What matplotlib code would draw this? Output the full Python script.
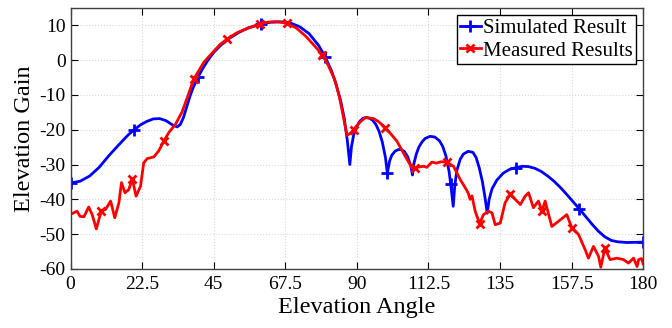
import matplotlib.pyplot as plt
import numpy as np

plt.rcParams['font.family'] = ['Liberation Serif', 'DejaVu Serif']
plt.rcParams['axes.unicode_minus'] = False

# Simulated result (angle, gain)
sim_angle = [0, 3, 6, 9, 12, 15, 18, 20, 22, 24, 26, 28, 30, 32, 33.5, 34.5, 35.5, 36.5,
             37.5, 38.5, 40, 41.5, 43, 45, 47.5, 50, 53, 56, 60, 63, 66, 69, 72, 75, 78,
             80, 82, 83.5, 85, 86, 87, 87.8, 88.3, 89, 90, 91, 92, 93, 94, 95, 96, 97,
             98, 99, 99.6, 100.3, 101, 102, 103, 104, 105, 106, 107, 107.5, 108, 108.7,
             109.5, 110.5, 111.5, 113, 114.5, 116, 117, 118, 119, 119.5, 120.3, 120.8,
             121.5, 122.5, 123.5, 125, 126.5, 127.5, 128.5, 129.5, 130.3, 131, 131.6,
             132.5, 134, 136, 138, 140, 142, 144, 146, 148, 150, 152, 154, 156, 158, 160,
             162, 164, 166, 168, 170, 172, 175, 180]
sim_gain = [-35.3, -34.8, -33.3, -30.8, -27.5, -24.5, -21.6, -20.0, -18.6, -17.6, -16.9,
            -16.8, -17.4, -18.6, -19.2, -18.5, -16.5, -13.5, -10.5, -8, -5, -2.5, -0.3,
            2.2, 4.5, 6.3, 8, 9.3, 10.4, 10.9, 11, 10.7, 9.6, 7.6, 4.2, 1, -3, -7, -12,
            -16.5, -23, -30, -25, -21.5, -19, -17.5, -16.7, -16.5, -16.7, -17.3, -18.5,
            -20.5, -23.5, -28, -32.5, -29, -27.3, -26.2, -25.7, -25.7, -26.3, -27.8,
            -30.5, -33, -29.5, -27, -25, -23.5, -22.5, -21.9, -22.1, -23.2, -24.8, -27.5,
            -32, -35.5, -42, -36, -31.5, -28.5, -27, -26.2, -26.5, -28, -31, -35, -39.5,
            -44, -40, -37, -34.5, -32.5, -31.4, -30.9, -30.5, -30.6, -31.1, -32, -33.3,
            -34.8, -36.6, -38.6, -40.7, -42.8, -45, -47.2, -49.2, -50.8, -51.8, -52.2,
            -52.4, -52.3]

# Measured results (angle, gain)
meas_angle = [0, 0.5, 2, 3, 4.2, 5.7, 6.8, 8.1, 8.9, 9.7, 11, 12.6, 13.9, 15.2, 16, 17.1,
              18.3, 19.4, 20.6, 22, 23, 24.1, 26.2, 27.7, 29.3, 30.9, 33, 35, 37, 38.7,
              40, 42, 45, 47, 49.2, 52, 55, 59.7, 62, 65, 68, 71, 74, 77, 79.1, 81, 83,
              84.5, 85.5, 86.9, 88, 89, 89.5, 91, 92.7, 95.3, 97, 98.9, 100.5, 102.6,
              105.2, 107.3, 108.2, 111, 112, 113.6, 115, 116.5, 118.3, 120.4, 122.5,
              124.1, 125, 125.6, 126.2, 127.2, 128.6, 129.8, 131.4, 132.5, 133.5, 135.1,
              136.6, 138.2, 139.8, 141.4, 142.9, 144, 145.5, 147.1, 148.2, 149.2, 151.3,
              153.4, 156, 157.6, 159.7, 161.8, 162.8, 164.4, 166, 166.7, 168, 169.6,
              171.7, 173.8, 175.4, 177, 178.1, 178.6, 179.5, 180]
meas_gain = [-44.2, -44.1, -43.4, -44.9, -45, -42.2, -44.4, -48.5, -45.8, -43.4, -42.9,
             -40.5, -45.3, -41, -35.2, -38.1, -37.2, -34.1, -39.1, -36.2, -29.5, -28.3,
             -27.8, -26.1, -23.3, -20.8, -18.4, -15, -10, -5.5, -3.5, -0.5, 2.5, 4.5, 6,
             7.7, 8.9, 10.4, 10.9, 11, 10.6, 9.2, 6.8, 3.8, 1.5, -1.5, -5.5, -10.5, -15,
             -21.6, -21, -20, -19.4, -17.8, -16.5, -16.8, -17.8, -19.4, -21, -23.3,
             -27.6, -30.9, -30.9, -30.5, -30.8, -29.3, -29.6, -29.2, -29.3, -30.5,
             -34.3, -36.7, -38.2, -40, -39, -43.4, -47, -44.4, -43.4, -43.9, -47.3,
             -46.8, -41, -38.6, -40, -41.5, -39.1, -38.1, -42.4, -40.5, -43.4, -40.5,
             -47.8, -46.3, -44.4, -48.2, -50.1, -54.5, -56.9, -53.5, -56.4, -59.5, -54,
             -57.3, -56.9, -57.3, -58.3, -56.9, -59.3, -57.3, -57, -58.5]

sim_marks = [0, 20, 40, 60, 80, 99.6, 119.5, 140, 160, 180]
meas_marks = [9.7, 19.4, 29.3, 38.7, 49.2, 59.7, 68, 79.1, 89, 98.9, 108.2, 118.3,
              128.6, 138.2, 148.2, 157.6, 168]

sim_idx = [int(np.argmin(np.abs(np.array(sim_angle) - a))) for a in sim_marks]
meas_idx = [int(np.argmin(np.abs(np.array(meas_angle) - a))) for a in meas_marks]

fig = plt.figure(figsize=(6.72, 3.28), dpi=100)
ax = fig.add_axes([0.105, 0.18, 0.852, 0.796])

ax.plot(sim_angle, sim_gain, color='blue', lw=2, marker='+', ms=9, mew=2,
        markevery=sim_idx, label='Simulated Result')
ax.plot(meas_angle, meas_gain, color='red', lw=2, marker='x', ms=6, mew=2,
        markevery=meas_idx, label='Measured Results')

ax.set_xlim(0, 180)
ax.set_ylim(-60, 15)
ax.set_xticks([0, 22.5, 45, 67.5, 90, 112.5, 135, 157.5, 180])
ax.set_xticklabels(['0', '22.5', '45', '67.5', '90', '112.5', '135', '157.5', '180'])
ax.set_yticks([10, 0, -10, -20, -30, -40, -50, -60])
ax.tick_params(direction='in', top=True, right=True, labelsize=14, length=5)
ax.tick_params(axis='x', pad=5)
ax.tick_params(axis='y', pad=3.5)
ax.grid(True, ls=':', color='#d8d8d8', lw=0.8)
for s in ax.spines.values():
    s.set_color('#404040')
    s.set_linewidth(1)

ax.set_xlabel('Elevation Angle', fontsize=17.5, labelpad=3)
ax.set_ylabel('Elevation Gain', fontsize=17.5, labelpad=3)

leg = ax.legend(loc='upper right', fontsize=15, handlelength=1.0, handletextpad=0.1,
                borderpad=0.15, labelspacing=0.15, borderaxespad=0.35, fancybox=False,
                framealpha=1, edgecolor='black')
leg.get_frame().set_linewidth(1)

plt.savefig('out.png', dpi=100)
